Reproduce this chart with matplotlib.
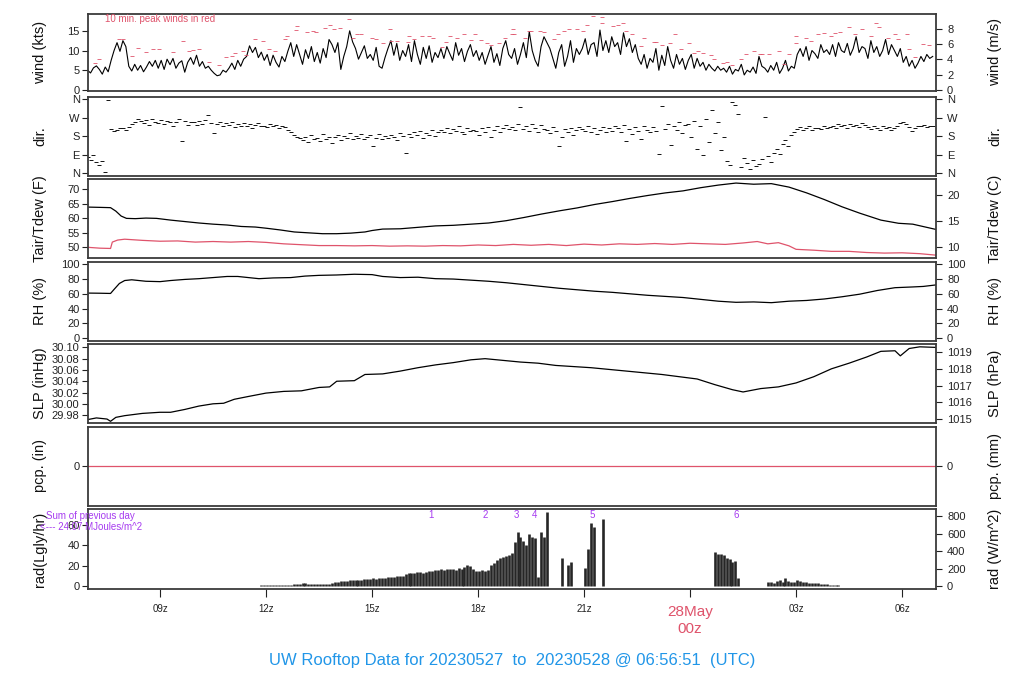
import numpy as np
import matplotlib
matplotlib.use("Agg")
import matplotlib.pyplot as plt

plt.rcParams['font.family'] = ['Liberation Sans', 'DejaVu Sans']

# ---------------- data ----------------
T0 = 6.95          # start hour (hours since 00z 27 May), 5-min samples
# wind speed (kts), 5-min samples
wind = [
    5.0,4.3,5.6,6.1,5.2,4.0,5.8,4.6,7.5,10.0,12.0,9.8,
    12.5,11.0,6.0,4.8,6.5,5.0,6.2,4.6,5.8,7.2,6.0,7.5,
    5.5,7.5,5.2,7.8,6.4,8.0,5.5,6.8,7.4,4.5,7.0,8.2,
    6.5,8.8,6.0,7.2,5.5,6.0,5.0,4.2,3.6,3.8,5.0,4.5,
    5.5,6.8,5.2,7.5,6.0,7.8,8.5,11.2,9.5,10.8,8.2,9.6,
    7.5,9.0,6.2,8.8,7.0,5.8,8.5,7.2,9.8,12.0,8.5,11.5,
    9.0,6.5,10.2,8.0,11.0,7.2,9.5,6.8,10.5,8.2,12.8,11.5,
    9.5,12.0,5.2,8.5,11.0,15.0,12.2,10.5,7.8,9.5,11.2,8.0,
    9.0,7.5,10.8,6.0,5.5,8.2,10.5,12.5,8.8,11.8,7.5,10.0,
    8.5,11.5,7.2,12.5,9.0,6.5,10.8,8.0,11.2,7.0,9.5,8.2,
    10.5,8.0,11.0,9.2,7.5,12.0,8.8,10.5,7.2,9.8,11.5,8.5,
    10.0,7.5,9.5,6.5,8.8,11.0,7.0,9.2,6.2,10.5,12.5,9.0,
    8.0,10.5,6.5,9.0,12.0,8.2,14.8,10.0,7.5,6.0,11.0,13.5,
    12.0,10.5,8.0,5.5,9.5,11.5,6.0,8.5,12.5,7.0,10.5,9.0,
    10.5,13.0,9.0,11.5,12.0,8.5,15.2,10.0,12.5,9.5,13.5,11.0,
    12.0,9.0,14.5,11.0,13.0,9.5,11.5,8.0,6.5,9.0,5.5,8.0,
    7.0,10.5,5.0,8.8,6.2,11.0,7.5,5.5,9.0,6.5,8.0,5.2,
    7.5,9.0,5.5,8.0,6.0,7.0,5.0,6.5,5.5,4.8,6.0,5.0,
    5.5,4.5,6.0,4.0,5.2,4.8,6.5,3.8,5.0,4.5,5.8,4.2,
    8.5,6.0,5.5,4.5,6.2,5.0,7.0,4.2,5.5,7.5,4.8,6.0,
    5.5,9.0,10.5,8.5,11.0,7.5,10.0,9.2,8.0,11.5,9.5,10.2,
    9.0,11.5,8.5,12.0,10.0,9.5,11.8,8.8,10.5,13.5,9.5,11.0,
    10.5,8.0,12.5,9.5,11.0,8.5,10.0,12.8,9.0,11.5,10.0,8.5,
    10.5,7.0,8.5,6.0,7.5,5.5,6.8,8.5,7.2,9.0,8.0,8.5,
]
# 10-min peak winds (hour, kts)
peak_t = [7.17,7.28,7.85,7.96,8.21,8.37,8.6,8.79,8.98,9.36,9.64,9.83,9.93,10.11,10.4,
          10.66,10.87,11.03,11.13,11.34,11.43,11.7,11.92,12.08,12.25,12.53,12.59,12.85,12.89,
          13.17,13.33,13.42,13.68,13.8,13.92,14.08,14.34,14.47,14.58,14.7,15.0,15.12,15.32,
          15.52,15.53,15.72,16.02,16.06,16.2,16.42,16.62,16.72,16.99,17.08,17.2,17.4,17.61,
          17.79,17.92,18.08,18.25,18.38,18.6,18.76,18.97,19.0,19.02,19.34,19.45,19.51,19.76,
          19.88,20.16,20.25,20.44,20.57,20.79,20.98,21.07,21.26,21.5,21.52,21.83,21.97,22.09,
          22.2,22.37,22.6,22.71,22.99,23.05,23.2,23.44,23.56,23.73,23.98,24.12,24.22,24.38,
          24.58,24.69,24.92,25.05,25.19,25.43,25.57,25.8,25.99,26.04,26.23,26.51,26.65,26.8,
          27.0,27.01,27.28,27.41,27.62,27.79,28.0,28.09,28.23,28.49,28.67,28.87,29.13,29.25,
          29.36,29.61,29.8,29.89,30.15,30.19,30.36,30.6,30.76]
peak_v = [6.9,7.85,12.8,12.8,8.6,10.7,9.7,10.3,10.3,9.7,12.3,9.95,10.1,10.5,7.2,
          6.3,8.4,8.6,9.3,9.95,8.9,12.8,12.3,10.5,9.95,12.8,13.8,15.2,16.2,
          14.6,15.0,14.6,15.6,16.6,15.4,15.6,17.9,13.1,14.3,14.3,13.1,12.8,11.8,
          15.4,12.3,12.5,12.2,13.7,12.8,13.8,13.7,13.1,10.8,12.2,13.7,13.1,14.1,
          12.6,14.1,12.6,11.8,11.3,11.8,13.1,14.1,15.4,14.1,13.3,14.85,15.0,15.0,
          14.6,12.8,14.1,14.85,15.4,15.4,14.85,16.4,18.65,18.4,16.9,16.1,16.4,16.9,
          14.85,14.1,11.1,13.3,12.1,12.1,11.3,11.8,14.1,10.3,11.8,9.3,9.8,9.3,
          8.8,7.8,6.8,7.1,6.3,7.8,9.0,10.0,9.0,9.0,9.0,10.0,6.5,9.0,
          11.8,13.6,13.3,12.3,14.1,14.35,13.8,14.35,14.6,15.9,14.1,15.4,13.6,16.9,
          15.9,13.3,14.1,12.8,14.1,10.5,8.4,11.6,11.3]
# wind direction (deg), 5-min samples
wdir = [
    80,65,90,55,40,60,5,356,215,205,210,220,
    218,208,225,240,250,262,255,245,258,235,265,250,
    245,260,238,255,250,232,248,262,155,255,236,250,
    248,235,252,240,258,283,245,195,238,250,228,242,
    236,248,225,240,232,245,228,238,222,235,242,230,
    232,225,240,228,235,220,232,225,210,200,185,175,
    170,160,178,150,185,165,172,158,190,168,175,145,
    175,188,162,180,170,195,165,182,172,190,168,178,
    185,130,172,192,165,180,170,188,176,160,195,182,
    100,190,178,200,185,205,170,195,188,210,180,198,
    210,200,222,195,215,205,228,200,190,218,205,212,
    205,185,220,198,225,175,210,230,200,218,235,215,
    225,210,238,321,215,230,205,240,220,200,235,215,
    210,195,225,205,133,175,215,200,220,185,210,225,
    215,205,228,200,220,190,212,225,198,218,205,230,
    220,200,235,155,215,190,225,205,168,230,210,198,
    225,205,92,329,215,240,138,230,210,250,195,235,
    240,175,255,120,230,89,265,150,308,195,250,113,
    178,60,40,348,330,290,30,75,50,20,65,35,
    45,70,272,85,55,100,120,95,140,160,130,185,
    200,215,225,210,220,228,212,218,222,215,230,220,
    225,232,220,238,228,235,222,240,230,236,226,242,
    235,225,215,230,220,210,228,218,225,212,222,230,
    245,250,238,225,205,220,232,228,235,225,230,228,
]
# air temperature / dew point (F)
tair_t = [6.95,7.3,7.6,7.75,7.9,8.05,8.3,8.6,8.9,9.3,9.7,10.1,10.5,10.9,11.3,11.7,12.0,12.4,
          12.8,13.2,13.6,14.0,14.4,14.8,15.0,15.3,15.8,16.3,16.8,17.3,17.8,18.3,18.8,19.3,
          19.8,20.3,20.8,21.3,21.8,22.3,22.8,23.3,23.8,24.3,24.8,25.3,25.8,26.3,26.8,27.3,
          27.8,28.3,28.8,29.4,29.9,30.3,30.95]
tair_v = [63.9,63.8,63.7,62.5,60.8,60.0,59.9,60.1,60.0,59.4,58.9,58.4,58.0,57.7,57.2,57.0,56.6,
          56.0,55.3,55.0,54.7,54.7,54.9,55.3,55.8,56.3,56.4,56.9,57.4,57.6,58.0,58.4,59.2,
          60.3,61.5,62.6,63.6,64.8,65.8,66.9,67.9,68.8,69.5,70.6,71.5,72.2,71.8,72.0,70.8,
          68.8,66.5,64.0,61.8,59.4,58.3,58.0,56.2]
tdew_t = [6.95,7.3,7.6,7.65,7.8,8.0,8.5,9.0,9.5,10.0,10.5,11.0,11.5,12.0,12.5,13.0,13.5,14.0,
          14.5,15.0,15.5,16.0,16.5,17.0,17.5,18.0,18.5,19.0,19.5,20.0,20.5,21.0,21.5,22.0,
          22.5,23.0,23.5,24.0,24.5,25.0,25.5,25.9,26.2,26.5,26.8,27.0,27.5,28.0,28.5,29.0,
          29.5,30.0,30.5,30.95]
tdew_v = [50.0,49.7,49.6,51.8,52.5,52.8,52.4,52.1,52.2,51.8,52.0,51.8,52.0,51.7,51.2,50.9,
          50.6,50.6,50.5,50.6,50.4,50.5,50.4,50.6,50.5,50.8,50.6,51.0,50.7,51.0,50.6,51.1,
          50.8,51.2,51.0,51.3,51.0,51.4,51.2,51.0,51.5,52.0,51.2,51.6,50.5,49.3,49.0,48.6,
          48.6,48.2,48.0,48.1,47.8,47.3]
# relative humidity (%)
rh_t = [6.95,7.3,7.6,7.7,7.85,8.0,8.2,8.6,9.0,9.3,9.7,10.1,10.5,10.9,11.2,11.5,11.8,12.2,12.7,
        13.1,13.5,14.0,14.5,15.0,15.3,15.8,16.3,16.8,17.3,17.8,18.3,18.8,19.3,19.8,20.3,20.8,
        21.3,21.8,22.3,22.8,23.3,23.8,24.3,24.8,25.3,25.8,26.3,26.8,27.3,27.8,28.3,28.8,29.3,
        29.8,30.3,30.6,30.95]
rh_v = [61.0,60.8,60.5,66.0,74.0,78.0,79.0,77.0,76.5,78.0,79.5,80.5,82.0,83.5,83.5,82.0,80.5,
        81.5,82.0,84.0,85.0,85.5,86.5,86.0,83.5,82.0,82.5,80.5,80.0,78.5,77.0,75.0,72.5,70.0,
        67.5,65.5,63.5,62.0,60.0,58.0,56.5,55.0,52.5,50.0,48.5,49.0,48.0,50.0,51.0,53.0,56.0,
        59.5,64.5,68.3,69.3,70.0,72.0]
# sea-level pressure (inHg)
slp_t = [6.95,7.2,7.5,7.6,7.75,8.0,8.5,9.0,9.3,9.7,10.1,10.5,10.8,11.1,11.5,12.0,12.5,13.0,
         13.5,13.8,14.0,14.5,14.8,15.3,15.8,16.3,16.8,17.3,17.8,18.2,18.7,19.2,19.7,20.2,20.7,
         21.2,21.7,22.2,22.7,23.2,23.7,24.2,24.7,25.2,25.5,26.0,26.5,27.0,27.5,28.0,28.5,29.0,
         29.4,29.8,29.95,30.2,30.5,30.95]
slp_v = [29.972,29.975,29.973,29.969,29.976,29.979,29.983,29.985,29.985,29.990,29.996,30.000,
         30.001,30.008,30.013,30.019,30.022,30.023,30.029,30.030,30.040,30.041,30.052,30.053,
         30.058,30.064,30.069,30.073,30.078,30.080,30.077,30.074,30.072,30.068,30.066,30.064,
         30.061,30.058,30.055,30.052,30.048,30.044,30.034,30.025,30.021,30.027,30.030,30.037,
         30.048,30.062,30.072,30.083,30.093,30.094,30.085,30.098,30.101,30.100]
# precipitation (in) -- none
pcp_t = [6.95, 30.95]
pcp_v = [0.0, 0.0]
# solar radiation (W/m^2), 5-min samples
rad = ([0]*59 + [
    8,9,10,10,11,12,12,13,14,15,16,18,
    20,22,37,30,26,25,24,22,20,22,25,28,
    35,48,50,52,55,62,68,70,69,68,72,75,
    80,86,88,85,90,92,95,98,100,105,110,114,
    120,140,150,152,148,155,160,150,165,170,175,180,
    185,190,178,195,200,190,188,202,195,215,240,225,
    200,175,170,180,172,178,240,265,300,316,330,345,
    360,375,506,620,563,520,469,600,560,545,107,613,560,843,
    0,0,0,0,316,0,240,270,0,0,0,0,202,423,716,680,0,0,766]
    + [0]*37 + [385,370,362,354,320,305,278,290,88] + [0]*9 + [
    50,45,30,55,70,45,88,60,50,45,70,61,50,45,40,38,35,30,25,22,20,15,12,10,8,6,5])
rad = rad + [0]*(288 - len(rad))
rad_marks = ['1', '2', '3', '4', '5', '6']
rad_mark_t = [16.68, 18.19, 19.08, 19.59, 21.24, 25.30]

xticks = [9, 12, 15, 18, 21, 24, 27, 30]
xticklabels = ['09z', '12z', '15z', '18z', '21z', '', '03z', '06z']
title = "UW Rooftop Data for 20230527  to  20230528 @ 06:56:51  (UTC)"

# ---------------- figure ----------------
RED = '#DF536B'
PURP = '#A63BF0'
BLUE = '#2196E8'
W, H = 1024, 700
fig = plt.figure(figsize=(W / 100, H / 100), dpi=100)
XL, XR = 88, 936
XLIM = (6.962, 30.96)
LAB_L = (40 - XL) / (XR - XL)
LAB_R = (995 - XL) / (XR - XL)

def panel(top, bot):
    ax = fig.add_axes([XL / W, 1 - bot / H, (XR - XL) / W, (bot - top) / H])
    ax.set_xlim(*XLIM)
    for s in ax.spines.values():
        s.set_color('#3a3a3a')
        s.set_linewidth(1.3)
    ax.tick_params(axis='y', direction='out', length=4, width=0.8, labelsize=8,
                   colors='#222222', pad=2)
    ax.set_xticks(xticks)
    ax.tick_params(axis='x', length=0, labelbottom=False)
    return ax

def labels(ax, left, right, sec):
    ax.text(LAB_L, 0.5, left, transform=ax.transAxes, rotation=90, fontsize=10.5,
            color='#111111', ha='center', va='center')
    ax.text(LAB_R, 0.5, right, transform=ax.transAxes, rotation=90, fontsize=10.5,
            color='#111111', ha='center', va='center')
    sec.tick_params(direction='out', length=4, width=0.8, labelsize=8, colors='#222222', pad=4)
    for s in sec.spines.values():
        s.set_visible(False)

t5 = T0 + np.arange(len(wind)) / 12.0
td = T0 + np.arange(len(wdir)) / 12.0
tr = T0 + np.arange(len(rad)) / 12.0

# wind
ax = panel(13.5, 90.7)
ax.plot(t5, wind, color='black', lw=0.8)
ax.plot(peak_t, peak_v, ls='none', marker='_', ms=3, mew=0.6, color=RED)
ax.set_ylim(-0.2, 19.4)
ax.set_yticks([0, 5, 10, 15])
sec = ax.secondary_yaxis('right', functions=(lambda k: k * 0.514444, lambda m: m / 0.514444))
sec.set_yticks([0, 2, 4, 6, 8])
labels(ax, 'wind (kts)', 'wind (m/s)', sec)
ax.text(0.02, 0.93, '10 min. peak winds in red', transform=ax.transAxes, color=RED,
        fontsize=7, va='center', ha='left')

# direction
ax = panel(96.7, 175.7)
ax.plot(td, wdir, ls='none', marker='_', ms=2.8, mew=0.7, color='#111111')
ax.set_ylim(-12, 372)
ax.set_yticks([0, 90, 180, 270, 360])
ax.set_yticklabels(['N', 'E', 'S', 'W', 'N'])
sec = ax.secondary_yaxis('right', functions=(lambda d: d, lambda d: d))
sec.set_yticks([0, 90, 180, 270, 360])
sec.set_yticklabels(['N', 'E', 'S', 'W', 'N'])
labels(ax, 'dir.', 'dir.', sec)

# temperature
ax = panel(179.3, 258.3)
ax.plot(tair_t, tair_v, color='black', lw=0.9)
ax.plot(tdew_t, tdew_v, color=RED, lw=0.9)
ax.set_ylim(46.2, 73.5)
ax.set_yticks([50, 55, 60, 65, 70])
sec = ax.secondary_yaxis('right', functions=(lambda f: (f - 32) * 5 / 9, lambda c: c * 9 / 5 + 32))
sec.set_yticks([10, 15, 20])
labels(ax, 'Tair/Tdew (F)', 'Tair/Tdew (C)', sec)

# RH
ax = panel(261.7, 340.7)
ax.plot(rh_t, rh_v, color='black', lw=0.9)
ax.set_ylim(-3.5, 103.5)
ax.set_yticks([0, 20, 40, 60, 80, 100])
sec = ax.secondary_yaxis('right', functions=(lambda r: r, lambda r: r))
sec.set_yticks([0, 20, 40, 60, 80, 100])
labels(ax, 'RH (%)', 'RH (%)', sec)

# SLP
ax = panel(344.0, 423.0)
ax.plot(slp_t, slp_v, color='black', lw=0.9)
ax.set_ylim(29.966, 30.106)
ax.set_yticks([29.98, 30.00, 30.02, 30.04, 30.06, 30.08, 30.10])
ax.set_yticklabels(['%.2f' % v for v in [29.98, 30.00, 30.02, 30.04, 30.06, 30.08, 30.10]])
sec = ax.secondary_yaxis('right', functions=(lambda p: p * 33.8639, lambda h: h / 33.8639))
sec.set_yticks([1015, 1016, 1017, 1018, 1019])
labels(ax, 'SLP (inHg)', 'SLP (hPa)', sec)

# precipitation
ax = panel(426.5, 505.5)
ax.plot(pcp_t, pcp_v, color=RED, lw=0.9)
ax.set_ylim(-1, 1)
ax.set_yticks([0])
sec = ax.secondary_yaxis('right', functions=(lambda p: p * 25.4, lambda m: m / 25.4))
sec.set_yticks([0])
labels(ax, 'pcp. (in)', 'pcp. (mm)', sec)

# radiation
LY = 41840.0 / 3600.0
ax = panel(509.3, 589.0)
rad_a = np.array(rad, dtype=float)
m = rad_a > 0
ax.vlines(tr[m], 0, rad_a[m], color='#262626', lw=1.9, capstyle='butt')
ax.set_ylim(-34, 877)
ax.set_yticks([0, 20 * LY, 40 * LY, 60 * LY])
ax.set_yticklabels(['0', '20', '40', '60'])
sec = ax.secondary_yaxis('right', functions=(lambda w: w, lambda w: w))
sec.set_yticks([0, 200, 400, 600, 800])
labels(ax, 'rad(Lgly/hr)', 'rad (W/m^2)', sec)
for lab, tt in zip(rad_marks, rad_mark_t):
    ax.text(tt, 0.93, lab, transform=ax.get_xaxis_transform(), color=PURP, fontsize=7,
            ha='center', va='center')
ax.tick_params(axis='x', direction='out', length=6, width=0.8, labelbottom=True,
               labelsize=7, pad=5, colors='#222222')
ax.set_xticklabels(xticklabels)
ax.text(24, -0.2, '28May', transform=ax.get_xaxis_transform(), color=RED, fontsize=11,
        ha='center', va='top')
ax.text(24, -0.42, '00z', transform=ax.get_xaxis_transform(), color=RED, fontsize=11,
        ha='center', va='top')
fig.text(90 / W, 1 - 515.7 / H, 'Sum of previous day', color=PURP, fontsize=7,
         ha='center', va='center')
fig.text(91 / W, 1 - 527 / H, '<--- 24.07 MJoules/m^2', color=PURP, fontsize=7,
         ha='center', va='center')

fig.text(512 / W, 1 - 660 / H, title, color=BLUE, fontsize=12, ha='center', va='center')

fig.savefig('out.png', dpi=100)
